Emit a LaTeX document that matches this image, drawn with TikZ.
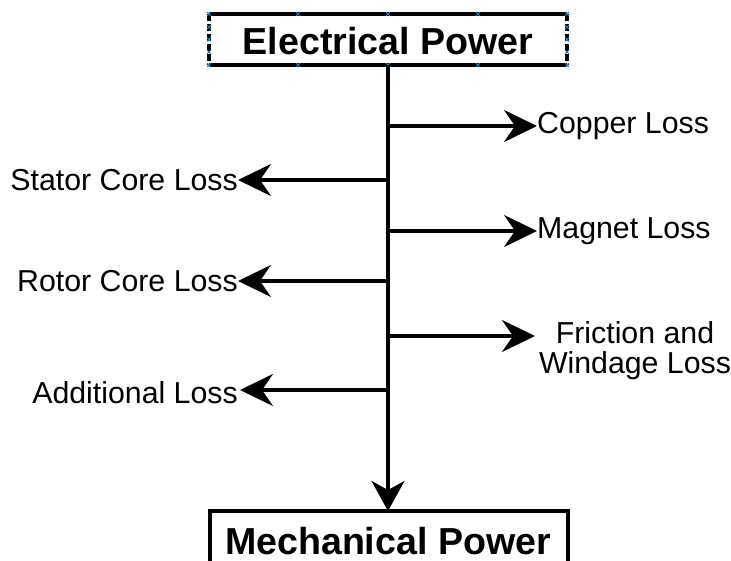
\documentclass[tikz,border=0pt]{standalone}
\usepackage{fontspec}
\setmainfont{Liberation Sans}
\usetikzlibrary{arrows.meta}
\tikzset{
  lossarrow/.style={line width=3.1pt, -{Stealth[length=33pt,width=32pt,inset=11pt]}},
  mainarrow/.style={line width=3.1pt, -{Stealth[length=30pt,width=33pt,inset=9pt]}},
  losstext/.style={font=\fontsize{30.3}{30}\selectfont, inner sep=0pt, align=center},
  titletext/.style={font=\fontsize{37.6}{40}\selectfont\bfseries, inner sep=0pt},
  boxline/.style={line width=3.1pt},
  handle/.style={draw=cyan!70!blue, line width=0.9pt},
}
\begin{document}
\begin{tikzpicture}[x=1pt,y=-1pt]
\useasboundingbox (0,0) rectangle (731,561);
% top box
\coordinate (tl) at (209,14);
\coordinate (tr) at (567,14);
\coordinate (bl) at (209,65);
\coordinate (br) at (567,65);
\draw[boxline] (tl) -- (tr);
\draw[boxline] (bl) -- (br);
\draw[boxline, dash pattern=on 7pt off 3pt] (tl) -- (bl);
\draw[boxline, dash pattern=on 7pt off 3pt] (tr) -- (br);
\node[titletext] (ep) at (388,41) {Electrical Power};
\foreach \p in {(209,14),(298,14),(388,14),(478,14),(567,14),
                (209,65),(298,65),(388,65),(478,65),(567,65),
                (209,27),(209,39.5),(209,52),(567,27),(567,39.5),(567,52)}
  \draw[handle] \p ++(-2,-2) -- ++(4,4) \p ++(-2,2) -- ++(4,-4);
\coordinate (top) at (388,65);
% bottom box
\draw[boxline] (210,600) |- (568,511) -- (568,600);
\node[titletext] (mp) at (388,541) {Mechanical Power};
\coordinate (bot) at (388,511);
\draw[mainarrow] (top) -- (bot);
% branch points
\coordinate (b1) at (388,126);
\coordinate (b2) at (388,180);
\coordinate (b3) at (388,231);
\coordinate (b4) at (388,281);
\coordinate (b5) at (388,336);
\coordinate (b6) at (388,390);
% right-side losses
\node[losstext, anchor=west] (cu) at (537,126) {Copper Loss};
\node[losstext, anchor=west] (mag) at (537,231) {Magnet Loss};
\node[losstext] (fw) at (635,351) {Friction and\\Windage Loss};
\draw[lossarrow] (b1) -- (cu.west);
\draw[lossarrow] (b3) -- (mag.west);
\draw[lossarrow] (b5) -- (535,336);
% left-side losses
\node[losstext, anchor=east] (st) at (238,180) {Stator Core Loss};
\node[losstext, anchor=east] (ro) at (238,281) {Rotor Core Loss};
\node[losstext, anchor=east] (ad) at (238,393) {Additional Loss};
\draw[lossarrow] (b2) -- (st.east);
\draw[lossarrow] (b4) -- (ro.east);
\draw[lossarrow] (b6) -- (240,390);
\end{tikzpicture}
\end{document}
